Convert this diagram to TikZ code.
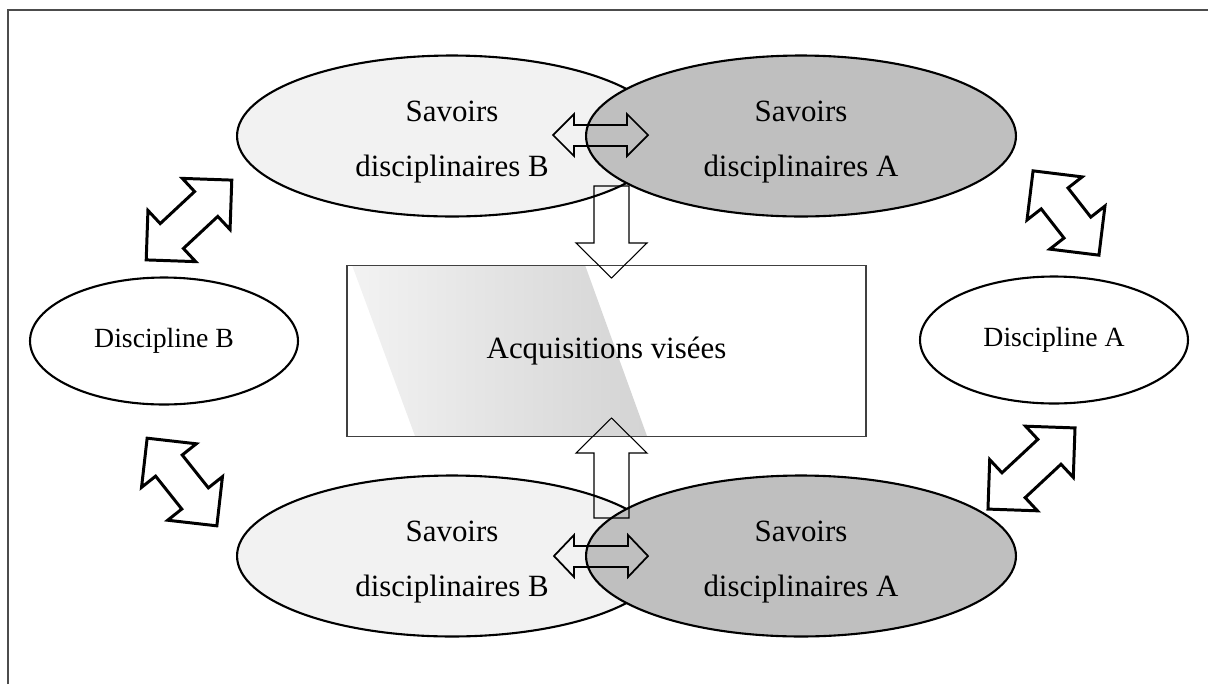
\documentclass[tikz,border=0pt]{standalone}
\usepackage{fontspec}
\setmainfont{Liberation Serif}
\usetikzlibrary{shapes.geometric}

\tikzset{
  savoirs/.style={draw,ellipse,line width=1.2pt,minimum width=8.6cm,minimum height=3.22cm,inner sep=0pt},
  discipline/.style={draw,ellipse,line width=1.2pt,minimum width=5.36cm,minimum height=2.54cm,inner sep=0pt,
    font=\fontsize{15.8}{18}\selectfont},
  savtxt/.style={anchor=base,inner sep=0pt,font=\fontsize{17.6}{21}\selectfont},
  thinarrow/.style={draw,line width=0.6pt},
  midarrow/.style={draw,line width=1pt},
  bigarrow/.style={draw,fill=white,line width=1.7pt}
}

\begin{document}
\begin{tikzpicture}[x=0.02cm,y=-0.02cm]
\useasboundingbox (0,0) rectangle (1208,684);
%frame
\draw[black!70,line width=0.6pt] (8,684) -- (8,10) -- (1208,10);

%savoirs, top
\node[savoirs,fill=black!5] (hautB) at (452,136) {};
\node[savoirs,fill=black!25] (hautA) at (801,136) {};
\node[savtxt] (hautB1) at (452,121) {Savoirs};
\node[savtxt] (hautB2) at (452,176) {disciplinaires B};
\node[savtxt] (hautA1) at (801,121) {Savoirs};
\node[savtxt] (hautA2) at (801,176) {disciplinaires A};

%savoirs, bottom
\node[savoirs,fill=black!5] (basB) at (452,556) {};
\node[savoirs,fill=black!25] (basA) at (801,556) {};
\node[savtxt] (basB1) at (452,541) {Savoirs};
\node[savtxt] (basB2) at (452,596) {disciplinaires B};
\node[savtxt] (basA1) at (801,541) {Savoirs};
\node[savtxt] (basA2) at (801,596) {disciplinaires A};

%disciplines
\node[discipline] (discB) at (164,341) {Discipline B};
\node[discipline] (discA) at (1054,340) {Discipline A};

%acquisitions
\shade[left color=black!5,right color=black!17]
    (352,265) -- (585,265) -- (647,436) -- (415,436) -- cycle;
\node[draw=black!75,line width=0.8pt,minimum width=10.38cm,minimum height=3.42cm,
    font=\fontsize{17.6}{21}\selectfont] (acq) at (606.5,351) {Acquisitions visées};

%arrows between the savoirs
\draw[midarrow] (553,135) -- (574,114) -- (574,125) -- (627,125) -- (627,114) -- (648,135)
    -- (627,156) -- (627,146) -- (574,146) -- (574,156) -- cycle;
\draw[midarrow] (554,556) -- (574,535) -- (574,546) -- (628,546) -- (628,535) -- (648,556)
    -- (628,577) -- (628,567) -- (574,567) -- (574,577) -- cycle;
\draw[thinarrow] (594,186) -- (629,186) -- (629,243) -- (647,243) -- (611.5,278)
    -- (576,243) -- (594,243) -- cycle;
\draw[thinarrow] (611.5,418) -- (647,453) -- (629,453) -- (629,518) -- (594,518)
    -- (594,453) -- (576,453) -- cycle;

%big double arrows
\foreach \cx/\cy/\ang/\len in {189/220/43/117, 1066/213/-52/107, 182/482/-51.5/112, 1031.5/468.5/43/119}
  {
  \pgfmathsetmacro{\h}{\len/2}
  \draw[bigarrow,shift={(\cx,\cy)},rotate=\ang]
      (-\h,0) -- (-\h+35,35) -- (-\h+35,17) -- (\h-35,17) -- (\h-35,35) -- (\h,0)
      -- (\h-35,-35) -- (\h-35,-17) -- (-\h+35,-17) -- (-\h+35,-35) -- cycle;
  }
\end{tikzpicture}
\end{document}
